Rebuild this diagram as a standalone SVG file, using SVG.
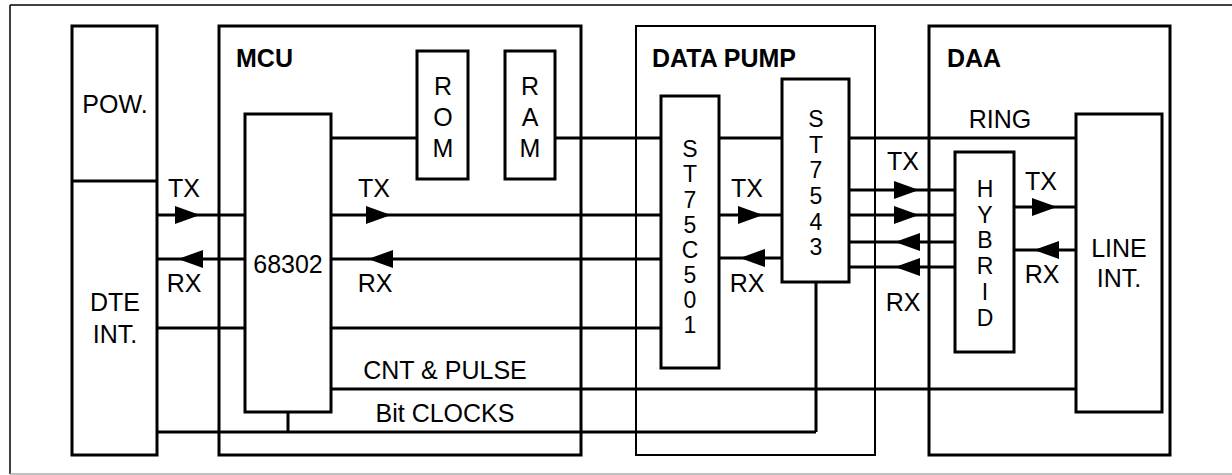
<svg xmlns="http://www.w3.org/2000/svg" xmlns:xlink="http://www.w3.org/1999/xlink" width="1232" height="475" viewBox="0 0 1232 475">
<style>
  .box { fill: #fff; stroke: #000; stroke-width: 3; }
  .thin { stroke-width: 2; }
  .w { stroke: #000; stroke-width: 3; fill: none; }
  text { font-family: "Liberation Sans", Arial, sans-serif; font-size: 25px; fill: #000; }
  .c { text-anchor: middle; }
  .b { font-weight: bold; }
  .v { font-size: 23px; }
</style>
<defs>
  <polygon id="ar" points="0,-9 25,0 0,9" fill="#000"/>
  <polygon id="al" points="0,0 25,-9 25,9" fill="#000"/>
</defs>
<rect x="0" y="0" width="1232" height="475" fill="#fff"/>
<g id="frame">
  <line x1="10" y1="5" x2="1232" y2="5" stroke="#000" stroke-width="1.5"/>
  <line x1="10" y1="5" x2="10" y2="474" stroke="#000" stroke-width="1.5"/>
  <line x1="10" y1="474" x2="1232" y2="474" stroke="#aaa" stroke-width="1.5"/>
</g>
<g id="mcu">
  <rect class="box" x="219" y="26" width="362" height="429"/>
  <text class="b" x="236" y="67">MCU</text>
</g>
<g id="datapump">
  <rect class="box thin" x="636" y="26" width="239" height="429"/>
  <text class="b" x="652" y="67">DATA PUMP</text>
</g>
<g id="daa">
  <rect class="box" x="929" y="26" width="241" height="429"/>
  <text class="b" x="947" y="67">DAA</text>
</g>
<g id="connectors">
  <path class="w" d="M331 138H417M555 138H661M719 138H782M849 138H1076"/>
  <path class="w" d="M157 215H245M331 215H661M719 215H782"/>
  <path class="w" d="M157 259H245M331 259H661M719 258H782"/>
  <path class="w" d="M849 190H955M849 215H955M849 242H955M849 267H955"/>
  <path class="w" d="M1014 207H1076M1014 250H1076"/>
  <path class="w" d="M157 328H245M331 328H661"/>
  <path class="w" d="M331 389H1076"/>
  <path class="w" d="M157 432H816M288 412V432M816 282V432"/>
  <use xlink:href="#ar" x="175" y="215"/>
  <use xlink:href="#ar" x="366" y="215"/>
  <use xlink:href="#ar" x="738" y="215"/>
  <use xlink:href="#ar" x="894" y="190"/>
  <use xlink:href="#ar" x="894" y="215"/>
  <use xlink:href="#ar" x="1032" y="207"/>
  <use xlink:href="#al" x="178" y="259"/>
  <use xlink:href="#al" x="368" y="259"/>
  <use xlink:href="#al" x="740" y="258"/>
  <use xlink:href="#al" x="895" y="242"/>
  <use xlink:href="#al" x="895" y="267"/>
  <use xlink:href="#al" x="1034" y="250"/>
  <text class="c" x="184" y="197">TX</text>
  <text class="c" x="374" y="197">TX</text>
  <text class="c" x="747" y="197">TX</text>
  <text class="c" x="903" y="170">TX</text>
  <text class="c" x="1041" y="190">TX</text>
  <text class="c" x="184" y="292">RX</text>
  <text class="c" x="375" y="292">RX</text>
  <text class="c" x="747" y="292">RX</text>
  <text class="c" x="903" y="311">RX</text>
  <text class="c" x="1042" y="283">RX</text>
  <text class="c" x="1000" y="128">RING</text>
  <text class="c" x="445" y="379">CNT &amp; PULSE</text>
  <text class="c" x="445" y="422">Bit CLOCKS</text>
</g>
<g id="pow-dte">
  <rect class="box" x="72" y="26" width="85" height="429"/>
  <line class="w" x1="72" y1="181" x2="157" y2="181"/>
  <text class="c" x="115" y="113">POW.</text>
  <text class="c" x="115" y="311">DTE</text>
  <text class="c" x="115" y="343">INT.</text>
</g>
<g id="cpu68302">
  <rect class="box" x="245" y="114" width="86" height="298"/>
  <text class="c" x="288" y="273">68302</text>
</g>
<g id="rom">
  <rect class="box" x="417" y="51" width="51" height="128"/>
  <text class="c"><tspan x="443" y="95">R</tspan><tspan x="443" y="126">O</tspan><tspan x="443" y="157">M</tspan></text>
</g>
<g id="ram">
  <rect class="box" x="505" y="51" width="50" height="128"/>
  <text class="c"><tspan x="530" y="95">R</tspan><tspan x="530" y="126">A</tspan><tspan x="530" y="157">M</tspan></text>
</g>
<g id="st75c501">
  <rect class="box" x="661" y="96" width="58" height="272"/>
  <text class="c v"><tspan x="690" y="157">S</tspan><tspan x="690" y="182">T</tspan><tspan x="690" y="207.5">7</tspan><tspan x="690" y="233">5</tspan><tspan x="690" y="258">C</tspan><tspan x="690" y="283">5</tspan><tspan x="690" y="308">0</tspan><tspan x="690" y="333">1</tspan></text>
</g>
<g id="st7543">
  <rect class="box" x="782" y="79" width="67" height="203"/>
  <text class="c v"><tspan x="816" y="127">S</tspan><tspan x="816" y="152.5">T</tspan><tspan x="816" y="178">7</tspan><tspan x="816" y="204">5</tspan><tspan x="816" y="229.5">4</tspan><tspan x="816" y="255">3</tspan></text>
</g>
<g id="hybrid">
  <rect class="box" x="955" y="152" width="59" height="200"/>
  <text class="c v"><tspan x="985" y="197">H</tspan><tspan x="985" y="223">Y</tspan><tspan x="985" y="248">B</tspan><tspan x="985" y="274">R</tspan><tspan x="985" y="300">I</tspan><tspan x="985" y="326">D</tspan></text>
</g>
<g id="lineint">
  <rect class="box" x="1076" y="114" width="86" height="298"/>
  <text class="c" x="1119" y="257">LINE</text>
  <text class="c" x="1119" y="287">INT.</text>
</g>
</svg>
